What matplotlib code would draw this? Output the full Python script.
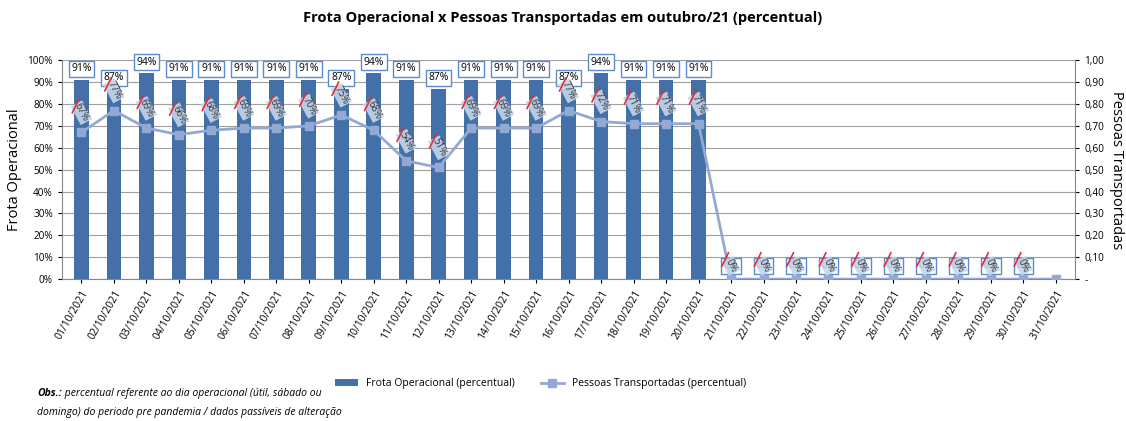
import matplotlib.pyplot as plt
import numpy as np
from matplotlib.ticker import FuncFormatter

# dados
dias = ['%02d/10/2021' % d for d in range(1, 32)]
frota = [91, 87, 94, 91, 91, 91, 91, 91, 87, 94, 91, 87, 91, 91, 91, 87, 94, 91, 91, 91,
         0, 0, 0, 0, 0, 0, 0, 0, 0, 0, np.nan]
pessoas = [0.67, 0.77, 0.69, 0.66, 0.68, 0.69, 0.69, 0.70, 0.75, 0.68, 0.54, 0.51, 0.69, 0.69,
           0.69, 0.77, 0.72, 0.71, 0.71, 0.71, 0, 0, 0, 0, 0, 0, 0, 0, 0, 0, 0]

plt.rcParams['font.family'] = ['Open Sans', 'DejaVu Sans']

bar_color = '#4370a8'
line_color = '#93a9d3'

fig = plt.figure(figsize=(11.26, 4.21), dpi=100)
ax = fig.add_axes([0.055, 0.337, 0.9, 0.52])
ax2 = ax.twinx()

x = np.arange(len(dias))
ax.bar(x, frota, width=0.45, color=bar_color, zorder=2, label='Frota Operacional (percentual)')
ax2.plot(x, pessoas, color=line_color, lw=2, marker='s', ms=6, zorder=3,
         label='Pessoas Transportadas (percentual)')

ax.set_ylim(0, 100)
ax.set_yticks(range(0, 101, 10))
ax.yaxis.set_major_formatter(FuncFormatter(lambda v, p: '%d%%' % v))
ax2.set_ylim(0, 1)
ax2.set_yticks(np.arange(0, 1.01, 0.1))
ax2.yaxis.set_major_formatter(FuncFormatter(lambda v, p: '-' if abs(v) < 1e-9 else ('%.2f' % v).replace('.', ',')))
ax.set_xlim(-0.6, len(dias) - 0.4)
ax.set_xticks(x)
ax.set_xticklabels(dias, rotation=60, ha='right', rotation_mode='anchor', fontsize=7.5)
ax.tick_params(axis='y', labelsize=7.2, length=3)
ax2.tick_params(axis='y', labelsize=7.2, length=3)
ax.tick_params(axis='x', length=3)
ax.grid(axis='y', color='#a0a0a0', lw=0.8, zorder=0)
ax.set_axisbelow(True)
for s in ['top', 'right']:
    ax.spines[s].set_visible(False)
for s in ['top', 'left']:
    ax2.spines[s].set_visible(False)
ax.spines['left'].set_color('#888888')
ax.spines['bottom'].set_color('#888888')
ax2.spines['right'].set_color('#888888')
ax2.spines['bottom'].set_visible(False)

ax.set_ylabel('Frota Operacional', fontsize=10.5, labelpad=4)
ax2.set_ylabel('Pessoas Transportadas', fontsize=10.5, rotation=270, labelpad=14)

# rotulos das barras
for xi, v in zip(x, frota):
    if np.isnan(v):
        continue
    y = v + 5 if v > 0 else 6
    ax.text(xi, y, '%d%%' % v, ha='center', va='center', fontsize=7.5, zorder=5,
            bbox=dict(boxstyle='square,pad=0.25', fc='white', ec='#5b8bd0', lw=1))

# rotulos da linha
for xi, v in zip(x, pessoas):
    if xi == len(dias) - 1:
        continue
    y = v + 0.09 if v > 0 else 0.06
    ax2.text(xi, y, '%d%%' % round(v * 100), ha='center', va='center', fontsize=7,
             rotation=-62, color='#333333', zorder=6,
             bbox=dict(boxstyle='square,pad=0.1', fc='#c5d5ea', ec='none', alpha=0.9))
    ax2.plot([xi - 0.28, xi - 0.08], [y + 0.0, y + 0.06], color='#e03030', lw=1.2, zorder=7)

fig.suptitle('Frota Operacional x Pessoas Transportadas em outubro/21 (percentual)',
             fontsize=10.5, fontweight='bold', y=0.975)

h1, l1 = ax.get_legend_handles_labels()
h2, l2 = ax2.get_legend_handles_labels()
fig.legend(h1 + h2, l1 + l2, loc='center', bbox_to_anchor=(0.48, 0.088), ncol=2,
           frameon=False, fontsize=7.5, columnspacing=2.5, handlelength=2.2)

obs = fig.text(0.033, 0.06, 'Obs.:', fontsize=7.5, fontweight='bold', style='italic')
fig.add_artist(plt.Annotation(' percentual referente ao dia operacional (útil, sábado ou',
                              xy=(1, 0), xycoords=obs, va='bottom', fontsize=7.5, style='italic'))
fig.text(0.033, 0.015, 'domingo) do periodo pre pandemia / dados passíveis de alteração',
         fontsize=7.5, style='italic')

fig.savefig('out.png', dpi=100)
